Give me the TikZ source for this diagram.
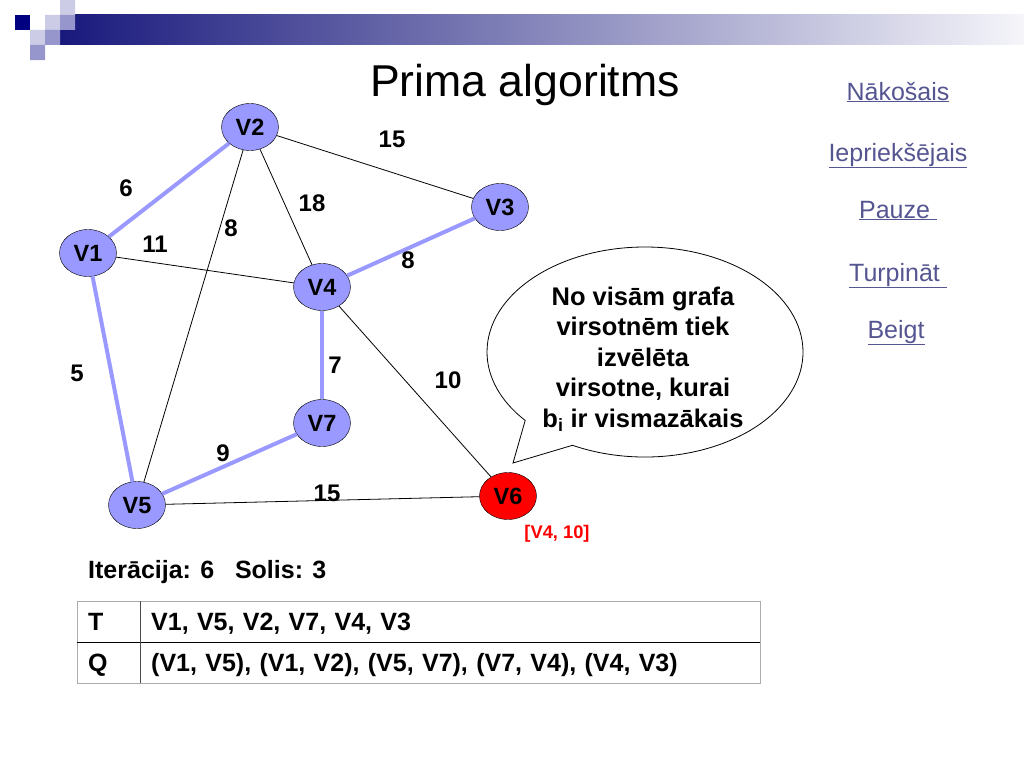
\documentclass[tikz,border=0pt]{standalone}
\usepackage{fontspec}
\setmainfont{Liberation Sans}
\usepackage{tikz}
\usetikzlibrary{matrix,shapes.geometric,shapes.callouts}
\usepackage{xcolor}
\definecolor{vfill}{RGB}{153,153,255}
\definecolor{navy}{RGB}{0,0,128}
\definecolor{barnavy}{RGB}{25,25,125}
\definecolor{lightsq}{RGB}{204,204,230}
\definecolor{midsq}{RGB}{150,150,204}
\definecolor{linkc}{RGB}{85,85,145}
\newcommand{\lnk}[1]{\underline{#1}}
\newcommand{\bfs}[1]{\bfseries\fontsize{#1}{#1}\selectfont}

\begin{document}
\begin{tikzpicture}[x=1pt,y=-1pt,
        vtx/.style={ellipse, draw, fill=vfill, minimum width=57pt, minimum height=47pt,
                inner sep=0pt, font=\bfs{23.5}, text height=17pt, text depth=0pt},
        edge/.style={black, line width=0.8pt},
        tree/.style={vfill, line width=4pt},
        wt/.style={inner sep=0pt, font=\bfs{24}, text height=17pt, text depth=0pt},
        link/.style={anchor=base, text=linkc, font=\fontsize{25}{25}\selectfont}]
        \useasboundingbox (0,0) rectangle (1024,768);

        % header
        \shade[left color=barnavy, right color={rgb,255:red,245;green,245;blue,250}] (60,15) rectangle (1024,45);
        \fill[navy] (15,15) rectangle (30,30);
        \fill[lightsq] (60,0) rectangle (75,15) (45,15) rectangle (60,30) (30,30) rectangle (45,45);
        \fill[midsq] (60,15) rectangle (75,30) (45,30) rectangle (60,45) (30,45) rectangle (45,60);
        \node[anchor=base, font=\fontsize{44.6}{44.6}\selectfont] (title) at (525,96) {Prima algoritms};

        % graph
        \node[vtx] (v1) at (88,253) {V1};
        \node[vtx] (v2) at (250,127) {V2};
        \node[vtx] (v3) at (500,207) {V3};
        \node[vtx] (v4) at (322,287) {V4};
        \node[vtx] (v5) at (137,505) {V5};
        \node[vtx, fill=red] (v6) at (508,496) {V6};
        \node[vtx] (v7) at (322,423) {V7};

        \draw[edge] (v2) -- (v3);
        \draw[edge] (v2) -- (v4);
        \draw[edge] (v2) -- (v5);
        \draw[edge] (v1) -- (v4);
        \draw[edge] (v4) -- (v6);
        \draw[edge] (v5) -- (v6);
        \draw[tree] (v1) -- (v2);
        \draw[tree] (v1) -- (v5);
        \draw[tree] (v3) -- (v4);
        \draw[tree] (v4) -- (v7);
        \draw[tree] (v5) -- (v7);

        \node[wt] (w12) at (126,188) {6};
        \node[wt] (w23) at (392,139) {15};
        \node[wt] (w24) at (312,203) {18};
        \node[wt] (w25) at (231,228) {8};
        \node[wt] (w14) at (155,244) {11};
        \node[wt] (w34) at (408,260) {8};
        \node[wt] (w15) at (77,373) {5};
        \node[wt] (w47) at (335,365) {7};
        \node[wt] (w46) at (448,380) {10};
        \node[wt] (w57) at (223,453) {9};
        \node[wt] (w56) at (327,493) {15};
        \node[anchor=base, text=red, font=\bfs{18.3}] (b6) at (557,538) {[V4, 10]};

        % bubble
        \coordinate (tip) at (513,463);
        \node[ellipse callout, draw, line width=0.8pt, minimum width=316pt, minimum height=210pt,
                callout absolute pointer=(tip), callout pointer arc=22] (bubble) at (645,352) {};
        \node[align=center, inner sep=0pt, font=\bfseries\fontsize{25.5}{30.5}\selectfont] (msg) at (643,359)
                {No visām grafa\\ virsotnēm tiek\\ izvēlēta\\ virsotne, kurai\\ b\textsubscript{i} ir vismazākais};

        % links
        \node[link] (next) at (898,100) {\lnk{Nākošais}};
        \node[link] (prev) at (898,161) {\lnk{Iepriekšējais}};
        \node[link] (pause) at (898,218) {\lnk{Pauze\ }};
        \node[link] (cont) at (898,281) {\lnk{Turpināt\ }};
        \node[link] (stop) at (896,338) {\lnk{Beigt}};

        % state
        \node[anchor=base west, inner sep=0pt, font=\bfs{25}] (iter) at (88,578) {Iterācija: 6\ \ \ Solis: 3};
        \matrix (tab) [matrix of nodes, anchor=north west, inner sep=0pt, row sep=0pt, column sep=0pt,
                nodes={inner xsep=11pt, inner ysep=0pt, minimum height=41pt, text height=18pt,
                        text depth=0pt, align=left, font=\bfs{25}},
                column 1/.style={nodes={text width=41pt}},
                column 2/.style={nodes={text width=598pt}}] at (77,601)
        {
         T & V1, V5, V2, V7, V4, V3                             \\
         Q & (V1, V5), (V1, V2), (V5, V7), (V7, V4), (V4, V3)   \\
        };
        \draw[gray!65, line width=1pt] (tab-1-1.north west) rectangle (tab-2-2.south east);
        \draw[black, line width=1.2pt] (tab-1-1.south west) -- (tab-1-2.south east);
        \draw[black!70, line width=1.2pt] (tab-1-1.north east) -- (tab-2-1.south east);
\end{tikzpicture}
\end{document}
